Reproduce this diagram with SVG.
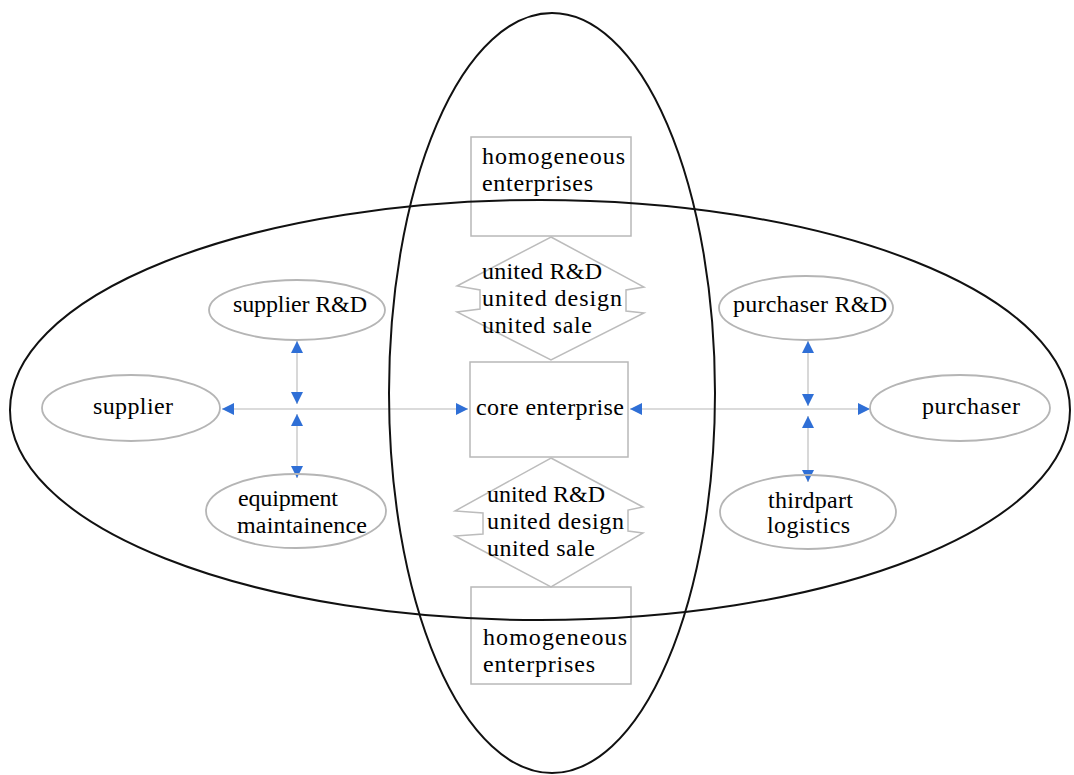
<svg xmlns="http://www.w3.org/2000/svg" width="1074" height="775" viewBox="0 0 1074 775">
<style>
.t{font-family:"Liberation Serif","Times New Roman",serif;font-size:24px;fill:#000;}
.box{fill:none;stroke:#b8b8b8;stroke-width:1.5;}
.node{fill:none;stroke:#b5b5b5;stroke-width:1.8;}
.big{fill:none;stroke:#111;stroke-width:2;}
.conn{stroke:#cfcfcf;stroke-width:1.6;fill:none;}
.arr{fill:none;stroke:#bcbcbc;stroke-width:1.5;}
</style>
<defs>
<marker id="ah" viewBox="0 0 10 10" refX="10" refY="5" markerUnits="userSpaceOnUse" markerWidth="16" markerHeight="12" orient="auto-start-reverse">
<path d="M0,0 L10,5 L0,10 z" fill="#2f6fd6"/>
</marker>
</defs>
<rect width="1074" height="775" fill="#fff"/>

<g id="connectors">
<line class="conn" x1="222" y1="409" x2="468" y2="409" marker-start="url(#ah)" marker-end="url(#ah)"/>
<line class="conn" x1="297" y1="341" x2="297" y2="404" marker-start="url(#ah)" marker-end="url(#ah)"/>
<line class="conn" x1="297" y1="414" x2="297" y2="478" marker-start="url(#ah)" marker-end="url(#ah)"/>
<line class="conn" x1="630" y1="409" x2="870" y2="409" marker-start="url(#ah)" marker-end="url(#ah)"/>
<line class="conn" x1="808" y1="341" x2="808" y2="406" marker-start="url(#ah)" marker-end="url(#ah)"/>
<line class="conn" x1="808" y1="416" x2="808" y2="482" marker-start="url(#ah)" marker-end="url(#ah)"/>
</g>

<g id="homogeneous-top">
<rect class="box" x="471" y="137" width="160" height="99"/>
<text class="t" x="482" y="164" textLength="143" lengthAdjust="spacing">homogeneous</text>
<text class="t" x="482" y="191" textLength="111" lengthAdjust="spacing">enterprises</text>
</g>

<g id="united-top">
<polygon class="arr" points="551,237 644,287 626,290 626,311 644,313 551,360 457,312 480,309 480,290 457,286"/>
<text class="t" x="482" y="279" textLength="120" lengthAdjust="spacing">united R&amp;D</text>
<text class="t" x="482" y="306" textLength="140" lengthAdjust="spacing">united design</text>
<text class="t" x="482" y="333" textLength="110" lengthAdjust="spacing">united sale</text>
</g>

<g id="core">
<rect class="box" x="470" y="362" width="158" height="95"/>
<text class="t" x="476" y="415" textLength="148" lengthAdjust="spacing">core enterprise</text>
</g>

<g id="united-bottom">
<polygon class="arr" points="551,458 643,507 628,510 628,531 643,533 551,587 455,536 483,534 483,513 455,511"/>
<text class="t" x="487" y="502" textLength="118" lengthAdjust="spacing">united R&amp;D</text>
<text class="t" x="487" y="529" textLength="137" lengthAdjust="spacing">united design</text>
<text class="t" x="487" y="556" textLength="108" lengthAdjust="spacing">united sale</text>
</g>

<g id="homogeneous-bottom">
<rect class="box" x="471" y="587" width="160" height="97"/>
<text class="t" x="483" y="645" textLength="144" lengthAdjust="spacing">homogeneous</text>
<text class="t" x="483" y="672" textLength="112" lengthAdjust="spacing">enterprises</text>
</g>

<g id="supplier">
<ellipse class="node" cx="131" cy="408" rx="89" ry="33"/>
<text class="t" x="93" y="414" textLength="80" lengthAdjust="spacing">supplier</text>
</g>

<g id="supplier-rd">
<ellipse class="node" cx="297" cy="310" rx="88" ry="30"/>
<text class="t" x="233" y="312" textLength="134" lengthAdjust="spacing">supplier R&amp;D</text>
</g>

<g id="equipment">
<ellipse class="node" cx="296" cy="511" rx="90" ry="37"/>
<text class="t" x="238" y="506" textLength="100" lengthAdjust="spacing">equipment</text>
<text class="t" x="237" y="533" textLength="130" lengthAdjust="spacing">maintainence</text>
</g>

<g id="purchaser">
<ellipse class="node" cx="960" cy="408" rx="90" ry="33"/>
<text class="t" x="922" y="414" textLength="98" lengthAdjust="spacing">purchaser</text>
</g>

<g id="purchaser-rd">
<ellipse class="node" cx="806" cy="308" rx="87" ry="32"/>
<text class="t" x="733" y="312" textLength="154" lengthAdjust="spacing">purchaser R&amp;D</text>
</g>

<g id="logistics">
<ellipse class="node" cx="808" cy="512" rx="88" ry="37"/>
<text class="t" x="768" y="508" textLength="85" lengthAdjust="spacing">thirdpart</text>
<text class="t" x="767" y="533" textLength="83" lengthAdjust="spacing">logistics</text>
</g>

<g id="regions">
<ellipse class="big" cx="552" cy="393" rx="163" ry="380"/>
<ellipse class="big" cx="540" cy="410" rx="530" ry="210"/>
</g>
</svg>
